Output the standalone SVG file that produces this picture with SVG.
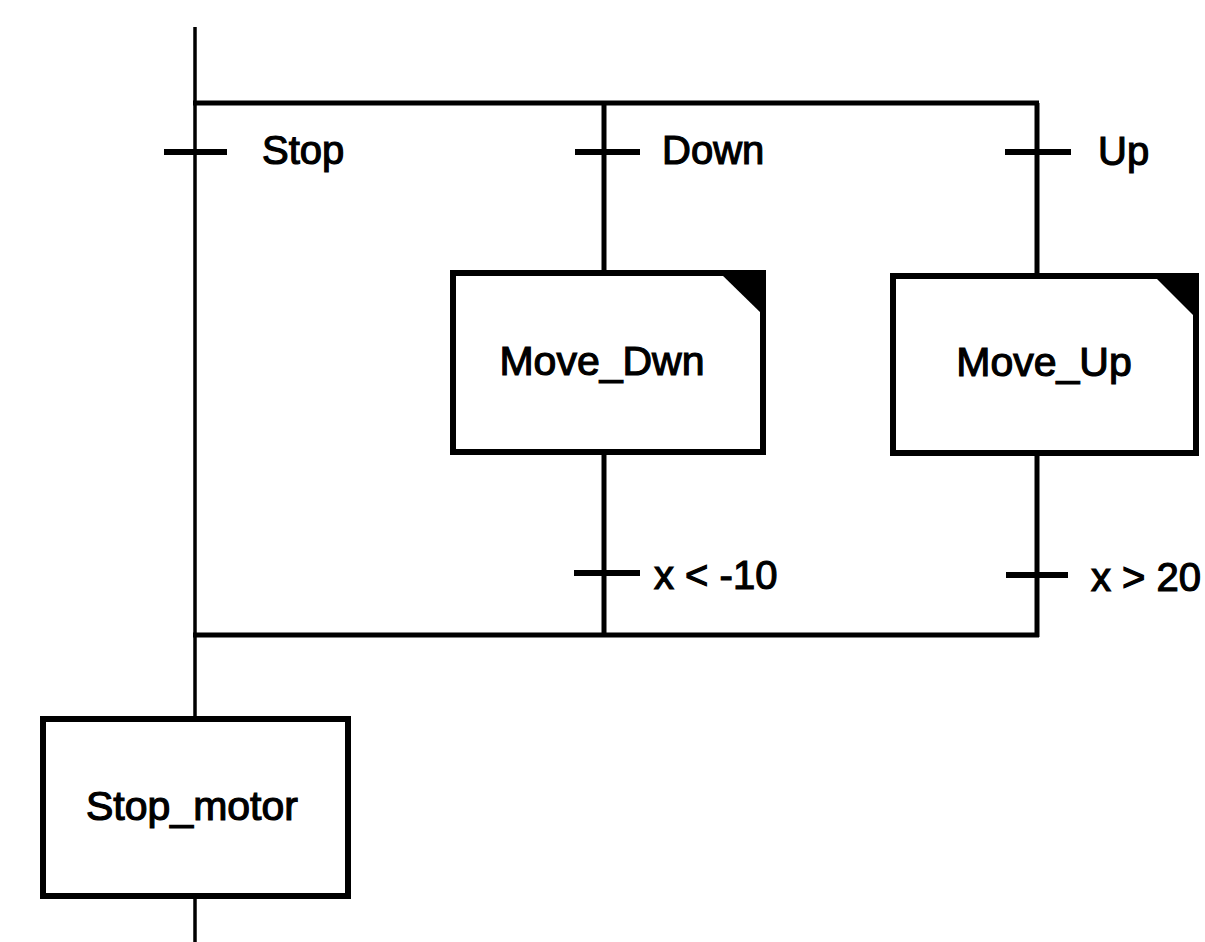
<svg xmlns="http://www.w3.org/2000/svg" width="1205" height="942" viewBox="0 0 1205 942">
<style>
.ln{stroke:#000;stroke-width:5;fill:none;stroke-linecap:butt}
.tick{stroke:#000;stroke-width:6;fill:none}
.thin{stroke:#000;stroke-width:3.5;fill:none}
.box{fill:#fff;stroke:#000;stroke-width:6}
.tri{fill:#000}
.t{font-family:"Liberation Sans",Arial,sans-serif;font-size:40px;fill:#000;stroke:#000;stroke-width:1.2}
.bt{font-size:41px;text-anchor:middle}
</style>
<rect width="1205" height="942" fill="#fff"/>
<g id="connectors">
<line class="thin" x1="195" y1="27" x2="195" y2="718"/>
<line class="thin" x1="195" y1="897" x2="195" y2="942"/>
<line class="ln" x1="193" y1="103" x2="1039" y2="103"/>
<line class="ln" x1="193" y1="635" x2="1039" y2="635"/>
<line class="ln" x1="604" y1="103" x2="604" y2="272"/>
<line class="ln" x1="604" y1="452" x2="604" y2="635"/>
<line class="ln" x1="1037" y1="103" x2="1037" y2="275"/>
<line class="ln" x1="1037" y1="452" x2="1037" y2="637"/>
</g>
<g id="t_stop"><line class="tick" x1="164" y1="152" x2="227" y2="152"/><text class="t" x="262" y="164">Stop</text></g>
<g id="t_down"><line class="tick" x1="575" y1="152" x2="640" y2="152"/><text class="t" x="662" y="164">Down</text></g>
<g id="t_up"><line class="tick" x1="1005" y1="152" x2="1071" y2="152"/><text class="t" x="1098" y="165">Up</text></g>
<g id="t_xlt"><line class="tick" x1="574" y1="573" x2="640" y2="573"/><text class="t" x="654" y="589">x &lt; -10</text></g>
<g id="t_xgt"><line class="tick" x1="1006" y1="575" x2="1068" y2="575"/><text class="t" x="1091" y="591">x &gt; 20</text></g>
<g id="move_dwn">
<rect class="box" x="453" y="273" width="310" height="179"/>
<polygon class="tri" points="720,273 763,273 763,315"/>
<text class="t bt" x="602" y="375">Move_Dwn</text>
</g>
<g id="move_up">
<rect class="box" x="893" y="276" width="303" height="177"/>
<polygon class="tri" points="1154,276 1196,276 1196,318"/>
<text class="t bt" x="1044" y="376">Move_Up</text>
</g>
<g id="stop_motor">
<rect class="box" x="43" y="719" width="305" height="177"/>
<text class="t bt" x="192" y="820">Stop_motor</text>
</g>
</svg>
